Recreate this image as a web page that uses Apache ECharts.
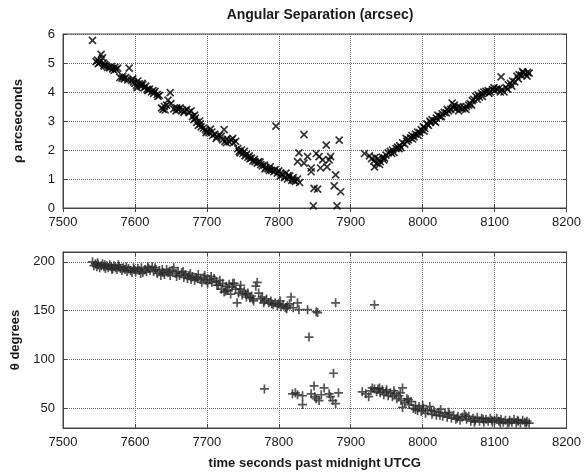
<!DOCTYPE html>
<html>
<head>
<meta charset="UTF-8">
<title>Angular Separation</title>
<script src="https://cdn.jsdelivr.net/npm/echarts@6/dist/echarts.min.js"></script>
<style>
  html, body { margin: 0; padding: 0; background: #fff; }
  #main { width: 584px; height: 472px; }
</style>
</head>
<body>
<div id="main"></div>
<script type="text/javascript">
// x axis ticks (time, s past midnight UTCG)
var xTicks = [7500, 7600, 7700, 7800, 7900, 8000, 8100, 8200];
var rhoTicks = [0, 1, 2, 3, 4, 5, 6];
var thetaTicks = [50, 100, 150, 200];

// separation rho (arcsec) : [time, rho]
var rhoPoints = [
  [7541,5.78],
  [7546,5.05],[7548,5.1],[7549,4.98],[7551,5.02],[7553,5.3],[7555,5.18],[7556,5.0],[7557,4.9],[7558,4.95],[7560,4.9],
  [7562,4.85],[7565,4.83],[7567,4.88],[7569,4.8],[7571,4.75],[7572,4.85],[7574,4.78],[7576,4.82],
  [7579,4.5],[7582,4.48],[7583,4.55],[7585,4.45],[7587,4.5],[7590,4.42],[7592,4.82],
  [7595,4.4],[7597,4.45],[7598,4.35],[7600,4.3],[7602,4.22],[7603,4.15],[7604,4.38],[7606,4.28],[7608,4.2],[7610,4.3],
  [7611,4.25],[7613,4.15],[7615,4.2],[7617,4.1],
  [7618,4.05],[7620,4.1],[7623,4.0],[7625,4.05],[7626,3.95],[7628,4.02],[7631,3.92],[7632,3.85],[7634,3.88],
  [7637,3.45],[7639,3.4],[7641,3.5],[7642,3.38],[7644,3.55],[7646,3.72],[7649,3.98],[7650,3.6],
  [7654,3.42],[7657,3.35],[7658,3.45],[7660,3.4],[7663,3.45],[7666,3.38],[7668,3.3],[7669,3.35],[7672,3.4],[7675,3.3],[7678,3.35],
  [7680,3.15],[7682,3.05],[7683,3.2],[7684,3.1],[7686,2.95],[7688,2.85],[7690,3.0],[7691,2.9],[7692,2.8],
  [7695,2.75],[7698,2.7],[7699,2.6],[7700,2.65],[7703,2.6],[7705,2.72],[7707,2.62],[7708,2.5],[7711,2.55],[7713,2.4],
  [7714,2.45],[7717,2.5],[7720,2.48],[7724,2.7],
  [7722,2.35],[7725,2.3],[7727,2.25],[7728,2.38],[7731,2.28],[7734,2.35],[7736,2.4],[7737,2.25],[7740,2.3],
  [7743,2.05],[7745,1.95],[7746,1.9],[7748,2.0],[7750,1.88],[7752,1.95],[7753,1.8],[7755,1.85],[7757,1.75],[7759,1.8],
  [7760,1.7],[7762,1.72],[7764,1.62],[7766,1.68],
  [7767,1.6],[7770,1.55],[7772,1.6],[7774,1.58],[7775,1.5],[7777,1.45],[7780,1.48],[7781,1.35],[7782,1.4],[7785,1.35],
  [7787,1.3],[7788,1.42],[7790,1.3],
  [7793,1.25],[7795,1.32],[7796,2.82],[7798,1.2],
  [7800,1.28],[7802,1.1],[7803,1.2],[7805,1.15],[7808,1.05],[7810,1.2],[7812,1.0],[7813,1.12],[7815,1.1],[7818,0.95],
  [7820,1.05],[7821,0.95],[7823,0.92],[7826,1.0],[7829,0.88],
  [7828,1.9],[7835,2.53],[7840,1.77],[7826,1.6],[7835,1.55],[7845,1.38],[7845,1.25],[7852,1.88],[7856,1.77],[7861,1.66],
  [7866,2.17],[7870,1.66],[7872,1.77],[7858,1.38],[7867,1.42],[7879,1.14],[7884,2.34],[7849,0.68],[7854,0.65],[7877,0.76],
  [7886,0.56],[7848,0.07],[7881,0.07],
  [7919,1.88],[7926,1.8],[7929,1.7],[7932,1.62],[7933,1.42],[7934,1.75],[7936,1.55],[7938,1.7],[7940,1.5],[7941,1.6],
  [7944,1.75],[7946,1.65],[7947,1.72],
  [7949,1.82],[7952,1.9],[7955,1.95],[7957,1.88],[7958,2.0],[7960,1.92],[7963,2.05],[7965,2.1],[7967,2.05],[7968,2.15],
  [7970,2.08],[7972,2.25],
  [7975,2.2],[7977,2.4],[7978,2.3],[7980,2.35],[7983,2.42],[7985,2.5],[7986,2.38],[7988,2.45],[7990,2.55],[7993,2.62],
  [7994,2.5],[7996,2.6],[7998,2.7],
  [8001,2.8],[8002,2.65],[8003,2.75],[8006,2.9],[8008,2.85],[8010,3.0],[8011,2.95],[8013,3.05],[8016,3.0],[8018,2.95],
  [8019,3.1],[8021,3.2],[8024,3.15],[8026,3.15],
  [8027,3.25],[8030,3.3],[8033,3.28],[8034,3.4],[8036,3.35],[8039,3.4],[8041,3.62],[8043,3.45],[8044,3.55],[8046,3.42],
  [8049,3.5],[8050,3.35],[8052,3.48],
  [8055,3.42],[8058,3.45],[8060,3.4],[8061,3.5],[8064,3.55],[8066,3.6],[8068,3.55],[8069,3.7],[8071,3.75],[8074,3.85],
  [8076,3.75],[8077,3.9],[8079,3.82],
  [8082,3.95],[8083,3.85],[8085,4.0],[8088,4.02],[8091,4.05],[8092,3.95],[8094,4.0],[8097,4.08],[8099,4.15],[8100,4.05],
  [8103,4.1],[8106,4.12],[8108,4.0],[8109,4.52],
  [8110,4.08],[8113,4.0],[8116,4.15],[8118,4.1],[8119,4.25],[8122,4.3],[8124,4.2],[8125,4.38],[8128,4.35],[8131,4.55],
  [8133,4.45],[8134,4.6],[8137,4.58],
  [8139,4.7],[8140,4.65],[8143,4.62],[8145,4.55],[8146,4.68],[8148,4.65]
];

// position angle theta (degrees) : [time, theta]
var thetaPoints = [
  [7541,200],[7543,196],[7545,198],[7547,195],[7548,199],[7549,197],[7551,194],[7553,196],[7555,198],[7557,195],
  [7558,197],[7559,193],
  [7561,196],[7563,194],[7565,197],[7567,195],[7568,192],[7569,193],[7571,196],[7573,194],[7575,192],[7577,197],
  [7578,195],[7580,193],[7582,191],[7584,194],[7586,192],[7588,195],[7589,190],[7591,193],[7594,191],[7596,189],
  [7598,194],[7599,192],
  [7601,190],[7604,193],[7606,191],[7608,188],[7609,194],[7611,189],[7614,192],[7616,190],[7618,195],[7619,193],[7621,191],
  [7624,195],[7626,190],[7628,194],[7629,192],[7631,188],[7634,191],[7636,186],[7638,192],[7639,189],[7641,187],
  [7644,192],[7646,189],[7648,190],[7649,186],
  [7652,191],[7654,194],[7657,188],[7658,185],[7660,190],[7662,186],[7665,189],[7667,190],[7668,184],[7670,187],
  [7673,183],[7675,186],[7677,188],
  [7678,182],[7680,185],[7683,181],[7685,184],[7687,183],
  [7688,187],[7691,182],[7693,179],[7696,184],[7697,186],[7699,181],[7701,178],[7704,182],[7706,185],[7707,179],
  [7710,183],[7713,180],[7714,176],
  [7716,176],[7718,181],[7720,172],[7722,178],[7724,169],[7726,170],[7727,175],[7729,171],[7731,177],[7733,167],
  [7735,174],[7736,178],
  [7738,178],[7740,172],[7742,158],[7744,168],[7746,172],[7747,176],
  [7749,166],[7752,170],[7754,167],[7755,164],[7757,168],[7760,163],[7762,165],[7764,162],[7765,160],[7768,175],
  [7770,179],[7772,168],
  [7775,162],[7777,164],[7779,158],[7780,160],[7783,162],[7786,158],
  [7789,160],[7790,157],[7792,156],[7795,158],[7798,155],[7800,157],[7802,160],[7803,154],[7806,156],[7809,153],
  [7811,152],[7812,155],[7815,157],
  [7817,164],[7820,153],
  [7826,158],[7828,151],[7840,151],[7852,149],[7854,148],[7879,158],[7933,156],[7842,123],
  [7780,70],[7819,65],[7823,66],[7826,64],[7833,63],[7833,54],[7849,73],[7845,65],[7850,62],[7852,60],
  [7856,58],[7859,64],[7863,71],[7870,65],[7872,62],[7875,58],[7879,55],[7876,86],[7883,66],
  [7916,67],[7921,65],[7925,62],[7928,68],[7930,71],[7933,70],[7936,67],[7938,70],[7940,71],[7941,66],[7944,69],
  [7946,64],[7949,67],[7950,69],[7952,63],[7955,66],[7958,62],[7960,68],[7961,65],[7964,60],[7967,63],[7969,66],
  [7970,58],[7972,71],
  [7972,51],[7975,56],[7978,60],[7980,59],[7981,54],[7984,57],[7987,50],[7990,53],[7990,49],[7993,48],[7995,52],
  [7998,47],[8000,53],[8001,50],[8004,45],[8007,48],[8010,52],[8012,48],[8013,44],[8016,47],[8019,43],[8022,46],
  [8024,43],[8025,49],[8028,42],
  [8031,45],[8034,41],[8036,46],[8037,44],[8040,40],[8043,43],[8046,39],[8048,40],[8049,42],[8052,38],[8055,41],[8058,44],
  [8060,42],[8061,39],[8064,42],[8067,37],[8070,40],[8072,36],[8073,38],[8076,41],[8079,37],[8082,40],[8084,39],
  [8085,36],[8088,39],
  [8091,37],[8094,40],[8096,38],[8097,36],[8100,38],
  [8103,40],[8106,37],[8108,35],[8109,39],[8112,36],[8115,38],[8118,35],[8120,36],[8121,38],[8124,36],[8127,39],
  [8130,35],[8132,38],
  [8133,37],[8136,35],[8139,38],[8142,36],[8144,35],[8145,37],[8148,35]
];

var font = '"Liberation Sans", Arial, Helvetica, sans-serif';
var ink = '#1a1a1a';

function xAxisFor(gridIndex, withName) {
  return {
    type: 'value', gridIndex: gridIndex,
    min: xTicks[0], max: xTicks[xTicks.length - 1], interval: 100,
    name: withName ? 'time seconds past midnight UTCG' : '',
    nameLocation: 'middle', nameGap: 29,
    nameTextStyle: { fontFamily: font, fontSize: 13, fontWeight: 'bold', color: ink },
    axisLine: { lineStyle: { color: '#444' } },
    axisTick: { inside: true, length: 4, lineStyle: { color: '#444' } },
    axisLabel: {
      fontFamily: font, fontSize: 13, color: ink, margin: 8,
      formatter: function (v) { return String(v); }
    },
    splitLine: { show: true, lineStyle: { type: 'dotted', color: '#666', width: 1 } }
  };
}
function mirrorX(gridIndex) {
  return {
    type: 'value', gridIndex: gridIndex, position: 'top',
    min: xTicks[0], max: xTicks[xTicks.length - 1], interval: 100,
    axisLine: { show: true, lineStyle: { color: '#444' } },
    axisTick: { inside: true, length: 4, lineStyle: { color: '#444' } },
    axisLabel: { show: false }, splitLine: { show: false }
  };
}

// 'x' and '+' markers drawn as stroked paths
var crossSym = 'path://M0,0L10,10M10,0L0,10';
var plusSym = 'path://M5,0L5,10M0,5L10,5';

var chart = echarts.init(document.getElementById('main'));

var option = {
  backgroundColor: '#fff',
  animation: false,
  title: {
    text: 'Angular Separation (arcsec)',
    left: 315, top: 3, textAlign: 'center',
    textStyle: { fontFamily: font, fontSize: 14, fontWeight: 'bold', color: ink }
  },
  grid: [
    { left: 63, right: 16, top: 34, height: 174, show: true, borderColor: '#444', borderWidth: 1 },
    { left: 63, right: 16, top: 252, height: 176, show: true, borderColor: '#444', borderWidth: 1 }
  ],
  xAxis: [xAxisFor(0, false), xAxisFor(1, true), mirrorX(0), mirrorX(1)],
  yAxis: [
    {
      type: 'value', gridIndex: 0,
      min: rhoTicks[0], max: rhoTicks[rhoTicks.length - 1], interval: 1,
      name: 'ρ arcseconds', nameLocation: 'middle', nameGap: 38,
      nameTextStyle: { fontFamily: font, fontSize: 13, fontWeight: 'bold', color: ink },
      axisLine: { show: true, lineStyle: { color: '#444' } },
      axisTick: { inside: true, length: 4, lineStyle: { color: '#444' } },
      axisLabel: { fontFamily: font, fontSize: 13, color: ink, margin: 8 },
      splitLine: { show: true, lineStyle: { type: 'dotted', color: '#666', width: 1 } }
    },
    {
      type: 'value', gridIndex: 1,
      min: 30, max: 210, splitNumber: 4,
      name: 'θ degrees', nameLocation: 'middle', nameGap: 38,
      nameTextStyle: { fontFamily: font, fontSize: 13, fontWeight: 'bold', color: ink },
      axisLine: { show: true, lineStyle: { color: '#444' } },
      axisTick: { inside: true, length: 4, lineStyle: { color: '#444' } },
      axisLabel: {
        fontFamily: font, fontSize: 13, color: ink, margin: 8,
        showMinLabel: false, showMaxLabel: false,
        formatter: function (v) { return thetaTicks.indexOf(v) >= 0 ? String(v) : ''; }
      },
      splitLine: { show: true, lineStyle: { type: 'dotted', color: '#666', width: 1 } }
    },
    {
      type: 'value', gridIndex: 0, position: 'right',
      min: rhoTicks[0], max: rhoTicks[rhoTicks.length - 1], interval: 1,
      axisLine: { show: true, lineStyle: { color: '#444' } },
      axisTick: { show: true, inside: true, length: 4, lineStyle: { color: '#444' } },
      axisLabel: { show: false }, splitLine: { show: false }
    },
    {
      type: 'value', gridIndex: 1, position: 'right',
      min: 30, max: 210, splitNumber: 4,
      axisLine: { show: true, lineStyle: { color: '#444' } },
      axisTick: { show: true, inside: true, length: 4, lineStyle: { color: '#444' } },
      axisLabel: { show: false }, splitLine: { show: false }
    }
  ],
  series: [
    {
      name: 'rho', type: 'scatter', xAxisIndex: 0, yAxisIndex: 0,
      data: rhoPoints, symbol: crossSym, symbolSize: 7,
      itemStyle: { color: 'transparent', borderColor: '#000', borderWidth: 1.7 }
    },
    {
      name: 'theta', type: 'scatter', xAxisIndex: 1, yAxisIndex: 1,
      data: thetaPoints, symbol: plusSym, symbolSize: 9,
      itemStyle: { color: 'transparent', borderColor: '#2a2a2a', borderWidth: 1.7 }
    }
  ]
};

chart.setOption(option);
</script>
</body>
</html>
